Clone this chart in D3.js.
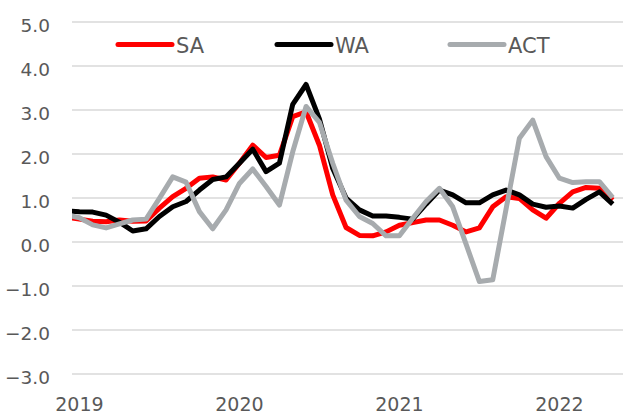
<!DOCTYPE html>
<html>
<head>
<meta charset="utf-8">
<script src="https://cdn.jsdelivr.net/npm/d3@7"></script>
<style>
  html, body { margin: 0; padding: 0; background: #fff; }
  svg { display: block; }
  text { font-family: "DejaVu Sans", sans-serif; fill: #595959; }
</style>
</head>
<body>
<svg id="chart" width="623" height="416"></svg>
<script>
// Monthly data, Dec 2018 .. May 2022
const months = d3.range(-1, 41); // -1 = Dec 2018, 0 = Jan 2019
const SA  = [0.57, 0.52, 0.47, 0.46, 0.50, 0.47, 0.48, 0.77, 1.03, 1.22, 1.45, 1.48,
             1.41, 1.79, 2.20, 1.92, 1.97, 2.85, 2.96, 2.20, 1.07, 0.33, 0.15, 0.14,
             0.23, 0.38, 0.44, 0.50, 0.50, 0.38, 0.23, 0.32, 0.80, 1.03, 0.99, 0.73,
             0.54, 0.88, 1.14, 1.24, 1.22, 0.95];
const WA  = [0.71, 0.69, 0.68, 0.61, 0.45, 0.25, 0.30, 0.58, 0.80, 0.92, 1.18, 1.42,
             1.48, 1.79, 2.11, 1.60, 1.79, 3.13, 3.58, 2.80, 1.67, 1.00, 0.73, 0.59,
             0.59, 0.56, 0.52, 0.86, 1.18, 1.07, 0.89, 0.89, 1.07, 1.18, 1.07, 0.86,
             0.79, 0.82, 0.77, 0.97, 1.14, 0.86];
const ACT = [0.62, 0.55, 0.39, 0.32, 0.41, 0.50, 0.52, 0.99, 1.48, 1.36, 0.69, 0.30,
             0.73, 1.33, 1.66, 1.26, 0.84, 2.05, 3.08, 2.72, 1.79, 0.95, 0.58, 0.42,
             0.14, 0.14, 0.54, 0.92, 1.22, 0.80, -0.05, -0.90, -0.86, 0.75, 2.36, 2.77,
             1.94, 1.45, 1.35, 1.37, 1.37, 1.01];
const seriesNames = ["SA", "WA", "ACT"];
const seriesColors = ["#ff0000", "#000000", "#a7abae"];
const yTicks = [5, 4, 3, 2, 1, 0, -1, -2, -3];
const xTickIdx = [0, 12, 24, 36];
const xTickLabels = ["2019", "2020", "2021", "2022"];

(function () {
const svg = d3.select("#chart");
const pLeft = 72, pRight = 623, pTop = 22, pBottom = 374;

const x = d3.scaleLinear().domain([-0.555, 40.77]).range([pLeft, pRight]);
const y = d3.scaleLinear().domain([-3, 5]).range([pBottom, pTop]);

// gridlines
svg.append("g").selectAll("line").data(yTicks).join("line")
  .attr("x1", pLeft).attr("x2", pRight)
  .attr("y1", d => y(d)).attr("y2", d => y(d))
  .attr("stroke", "#d9d9d9").attr("stroke-width", 1.5);

// y labels
svg.append("g").selectAll("text").data(yTicks).join("text")
  .attr("x", 50).attr("y", d => y(d) + 9.5)
  .attr("text-anchor", "end")
  .attr("font-size", "18.5px")
  .text(d => d3.format(".1f")(d));

// x labels
svg.append("g").selectAll("text").data(xTickIdx).join("text")
  .attr("x", d => x(d)).attr("y", 411)
  .attr("text-anchor", "middle")
  .attr("font-size", "19px")
  .text((d, i) => xTickLabels[i]);

// clip
svg.append("clipPath").attr("id", "plotclip")
  .append("rect").attr("x", pLeft).attr("y", 0).attr("width", pRight - pLeft).attr("height", 416);

const line = d3.line().x((d, i) => x(months[i])).y(d => y(d));
const plot = svg.append("g").attr("clip-path", "url(#plotclip)");
[SA, WA, ACT].forEach((s, k) => {
  plot.append("path").datum(s)
    .attr("d", line)
    .attr("fill", "none")
    .attr("stroke", seriesColors[k])
    .attr("stroke-width", 5)
    .attr("stroke-linejoin", "round")
    .attr("stroke-linecap", "butt");
});

// legend
const legendX = [118, 277, 450];
const lg = svg.append("g");
seriesNames.forEach((n, k) => {
  lg.append("line")
    .attr("x1", legendX[k]).attr("x2", legendX[k] + 54)
    .attr("y1", 44.5).attr("y2", 44.5)
    .attr("stroke", seriesColors[k]).attr("stroke-width", 5)
    .attr("stroke-linecap", "round");
  lg.append("text")
    .attr("x", legendX[k] + 58).attr("y", 52.5)
    .attr("font-size", "21px")
    .text(n);
});
})();
</script>
</body>
</html>
